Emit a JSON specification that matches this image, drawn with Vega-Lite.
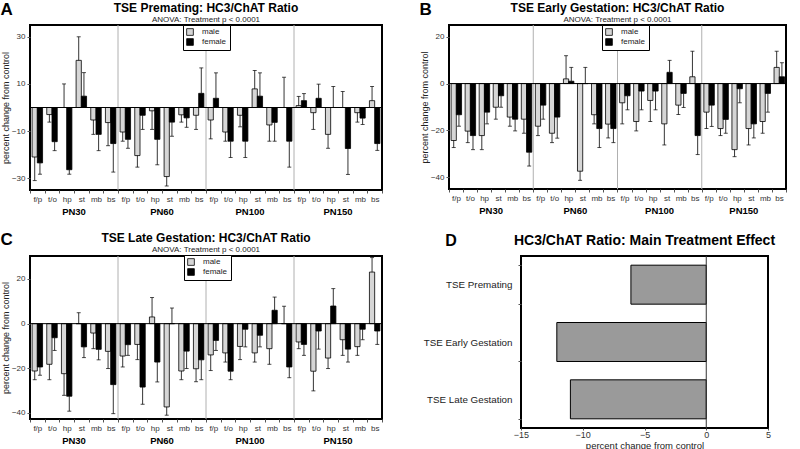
{
"$schema": "https://vega.github.io/schema/vega-lite/v6.json",
"padding": {"left": 0, "top": 0, "right": 0, "bottom": 0},
"config": {"font": "Liberation Sans", "view": {"stroke": "black", "strokeWidth": 2}, "title": {"color": "black", "fontWeight": "bold"}, "axis": {"labelColor": "#333", "titleColor": "#222", "tickColor": "#555"}},
"datasets": {
"A": [
{"k":"PN30 f/p","s":"male","v":-21,"e":-31},{"k":"PN30 f/p","s":"female","v":-23.5,"e":-28.3},
{"k":"PN30 t/o","s":"male","v":-3,"e":-6.2},{"k":"PN30 t/o","s":"female","v":-14.5,"e":-18.3},
{"k":"PN30 hp","s":"male","v":0,"e":10},{"k":"PN30 hp","s":"female","v":-26.4,"e":-28.3},
{"k":"PN30 st","s":"male","v":20,"e":30},{"k":"PN30 st","s":"female","v":4.8,"e":14.8},
{"k":"PN30 mb","s":"male","v":-5.3,"e":-11.4},{"k":"PN30 mb","s":"female","v":-11.4,"e":-18.3},
{"k":"PN30 bs","s":"male","v":-6.4,"e":-16.2},{"k":"PN30 bs","s":"female","v":-15.3,"e":-27.4},
{"k":"PN60 f/p","s":"male","v":-10.4,"e":-14.3},{"k":"PN60 f/p","s":"female","v":-13.5,"e":-17.3},
{"k":"PN60 t/o","s":"male","v":-20.4,"e":-25.3},{"k":"PN60 t/o","s":"female","v":-3.3,"e":-9.3},
{"k":"PN60 hp","s":"male","v":-1.4,"e":-9.3},{"k":"PN60 hp","s":"female","v":-13.5,"e":-24.3},
{"k":"PN60 st","s":"male","v":-29.3,"e":-33.3},{"k":"PN60 st","s":"female","v":-6.2,"e":-12.2},
{"k":"PN60 mb","s":"male","v":-3.1,"e":-6.2},{"k":"PN60 mb","s":"female","v":-4.4,"e":-8.4},
{"k":"PN60 bs","s":"male","v":-3.3,"e":-9.3},{"k":"PN60 bs","s":"female","v":6,"e":16.8},
{"k":"PN100 f/p","s":"male","v":-5.3,"e":-13.3},{"k":"PN100 f/p","s":"female","v":3.9,"e":14.7},
{"k":"PN100 t/o","s":"male","v":-10.4,"e":-14.3},{"k":"PN100 t/o","s":"female","v":-14.3,"e":-21.2},
{"k":"PN100 hp","s":"male","v":-3.3,"e":-8.2},{"k":"PN100 hp","s":"female","v":-14.3,"e":-21.2},
{"k":"PN100 st","s":"male","v":7.9,"e":15.7},{"k":"PN100 st","s":"female","v":4.8,"e":14.7},
{"k":"PN100 mb","s":"male","v":-7.4,"e":-14.3},{"k":"PN100 mb","s":"female","v":-6.3,"e":-14.3},
{"k":"PN100 bs","s":"male","v":0,"e":12.8},{"k":"PN100 bs","s":"female","v":-14.3,"e":-25.3},
{"k":"PN150 f/p","s":"male","v":0.8,"e":4.7},{"k":"PN150 f/p","s":"female","v":2.9,"e":5.9},
{"k":"PN150 t/o","s":"male","v":-2.2,"e":-9.3},{"k":"PN150 t/o","s":"female","v":3.9,"e":9.9},
{"k":"PN150 hp","s":"male","v":-11.4,"e":-17.3},{"k":"PN150 hp","s":"female","v":0,"e":8.9},
{"k":"PN150 st","s":"male","v":0,"e":6.8},{"k":"PN150 st","s":"female","v":-17.4,"e":-28.4},
{"k":"PN150 mb","s":"male","v":-2.2,"e":-6.2},{"k":"PN150 mb","s":"female","v":-4.5,"e":-7.2},
{"k":"PN150 bs","s":"male","v":2.9,"e":8.9},{"k":"PN150 bs","s":"female","v":-15.3,"e":-18.2}
],
"B": [
{"k":"PN30 f/p","s":"male","v":-24.3,"e":-27.3},{"k":"PN30 f/p","s":"female","v":-13.3,"e":-18.2},
{"k":"PN30 t/o","s":"male","v":-20.3,"e":-25.2},{"k":"PN30 t/o","s":"female","v":-22.2,"e":-28.2},
{"k":"PN30 hp","s":"male","v":-22.2,"e":-28.2},{"k":"PN30 hp","s":"female","v":-12.2,"e":-17.2},
{"k":"PN30 st","s":"male","v":-10.1,"e":-15.2},{"k":"PN30 st","s":"female","v":-5.2,"e":-10.1},
{"k":"PN30 mb","s":"male","v":-14.3,"e":-18.2},{"k":"PN30 mb","s":"female","v":-15.2,"e":-20.2},
{"k":"PN30 bs","s":"male","v":-15.2,"e":-21.2},{"k":"PN30 bs","s":"female","v":-29.3,"e":-35.2},
{"k":"PN60 f/p","s":"male","v":-18.2,"e":-22.2},{"k":"PN60 f/p","s":"female","v":-9.2,"e":-15.2},
{"k":"PN60 t/o","s":"male","v":-21.2,"e":-25.2},{"k":"PN60 t/o","s":"female","v":-14.3,"e":-23.3},
{"k":"PN60 hp","s":"male","v":2,"e":11.9},{"k":"PN60 hp","s":"female","v":1,"e":6.9},
{"k":"PN60 st","s":"male","v":-37.4,"e":-41.3},{"k":"PN60 st","s":"female","v":0,"e":6.9},
{"k":"PN60 mb","s":"male","v":-13.3,"e":-17.2},{"k":"PN60 mb","s":"female","v":-19.2,"e":-27.3},
{"k":"PN60 bs","s":"male","v":-17.3,"e":-23.2},{"k":"PN60 bs","s":"female","v":-19.2,"e":-25.2},
{"k":"PN100 f/p","s":"male","v":-8.2,"e":-17.2},{"k":"PN100 f/p","s":"female","v":-5.2,"e":-11.2},
{"k":"PN100 t/o","s":"male","v":-16.2,"e":-20.2},{"k":"PN100 t/o","s":"female","v":-3.2,"e":-11.2},
{"k":"PN100 hp","s":"male","v":-7.2,"e":-16.2},{"k":"PN100 hp","s":"female","v":-3.2,"e":-11.2},
{"k":"PN100 st","s":"male","v":-17.2,"e":-26.2},{"k":"PN100 st","s":"female","v":4.8,"e":9.9},
{"k":"PN100 mb","s":"male","v":-9.2,"e":-13.2},{"k":"PN100 mb","s":"female","v":-4.2,"e":-10.2},
{"k":"PN100 bs","s":"male","v":2.9,"e":13.8},{"k":"PN100 bs","s":"female","v":-22.2,"e":-30.3},
{"k":"PN150 f/p","s":"male","v":-12.2,"e":-19.2},{"k":"PN150 f/p","s":"female","v":-9.2,"e":-18.3},
{"k":"PN150 t/o","s":"male","v":-19.2,"e":-22.2},{"k":"PN150 t/o","s":"female","v":-15.3,"e":-21.2},
{"k":"PN150 hp","s":"male","v":-28.2,"e":-31.2},{"k":"PN150 hp","s":"female","v":-2.2,"e":-8.2},
{"k":"PN150 st","s":"male","v":-19.2,"e":-26.2},{"k":"PN150 st","s":"female","v":-17.2,"e":-23.2},
{"k":"PN150 mb","s":"male","v":-16.2,"e":-21.2},{"k":"PN150 mb","s":"female","v":-4.2,"e":-12.2},
{"k":"PN150 bs","s":"male","v":6.9,"e":13.8},{"k":"PN150 bs","s":"female","v":2.9,"e":8.9}
],
"C": [
{"k":"PN30 f/p","s":"male","v":-21.2,"e":-25.1},{"k":"PN30 f/p","s":"female","v":-19.4,"e":-23.1},
{"k":"PN30 t/o","s":"male","v":-18.2,"e":-25.1},{"k":"PN30 t/o","s":"female","v":-6.3,"e":-12},
{"k":"PN30 hp","s":"male","v":-22.4,"e":-32.1},{"k":"PN30 hp","s":"female","v":-32.5,"e":-39.2},
{"k":"PN30 st","s":"male","v":0,"e":4.9},{"k":"PN30 st","s":"female","v":-10.4,"e":-15.2},
{"k":"PN30 mb","s":"male","v":-4.2,"e":-11.2},{"k":"PN30 mb","s":"female","v":-11.5,"e":-16.2},
{"k":"PN30 bs","s":"male","v":-12.4,"e":-20.1},{"k":"PN30 bs","s":"female","v":-27.3,"e":-40.3},
{"k":"PN60 f/p","s":"male","v":-14.5,"e":-19.4},{"k":"PN60 f/p","s":"female","v":-9.4,"e":-14.2},
{"k":"PN60 t/o","s":"male","v":-9.3,"e":-16.1},{"k":"PN60 t/o","s":"female","v":-28.4,"e":-36.1},
{"k":"PN60 hp","s":"male","v":3,"e":11.7},{"k":"PN60 hp","s":"female","v":-17.2,"e":-26.1},
{"k":"PN60 st","s":"male","v":-37.3,"e":-41},{"k":"PN60 st","s":"female","v":0,"e":7},
{"k":"PN60 mb","s":"male","v":-21.2,"e":-25.1},{"k":"PN60 mb","s":"female","v":-12.3,"e":-20.1},
{"k":"PN60 bs","s":"male","v":-20.2,"e":-26},{"k":"PN60 bs","s":"female","v":-16.2,"e":-25.1},
{"k":"PN100 f/p","s":"male","v":-14,"e":-21},{"k":"PN100 f/p","s":"female","v":-7.5,"e":-12},
{"k":"PN100 t/o","s":"male","v":-13.1,"e":-17.2},{"k":"PN100 t/o","s":"female","v":-21.3,"e":-25.1},
{"k":"PN100 hp","s":"male","v":-10.2,"e":-16.1},{"k":"PN100 hp","s":"female","v":-2.5,"e":-10.4},
{"k":"PN100 st","s":"male","v":-13.1,"e":-17.2},{"k":"PN100 st","s":"female","v":-5.2,"e":-10.4},
{"k":"PN100 mb","s":"male","v":-11.2,"e":-18.2},{"k":"PN100 mb","s":"female","v":6,"e":11.9},
{"k":"PN100 bs","s":"male","v":0,"e":7.8},{"k":"PN100 bs","s":"female","v":-19.4,"e":-24.2},
{"k":"PN150 f/p","s":"male","v":-8.2,"e":-11.2},{"k":"PN150 f/p","s":"female","v":-9.3,"e":-14.2},
{"k":"PN150 t/o","s":"male","v":-21.3,"e":-30.1},{"k":"PN150 t/o","s":"female","v":-3.3,"e":-11.4},
{"k":"PN150 hp","s":"male","v":-15.4,"e":-20.1},{"k":"PN150 hp","s":"female","v":7.9,"e":15.7},
{"k":"PN150 st","s":"male","v":-7.2,"e":-14.2},{"k":"PN150 st","s":"female","v":-11.4,"e":-17.2},
{"k":"PN150 mb","s":"male","v":-10.3,"e":-14.2},{"k":"PN150 mb","s":"female","v":-2.5,"e":-7.2},
{"k":"PN150 bs","s":"male","v":23.1,"e":29.6},{"k":"PN150 bs","s":"female","v":-3.3,"e":-9.3}
]
},
"resolve": {"scale": {"color": "independent"}, "legend": {"color": "independent"}},
"spacing": 13,
"vconcat": [
{
"hconcat": [
{
"title": {"text": "A", "anchor": "start", "frame": "bounds", "fontSize": 17, "offset": -18},
"resolve": {"scale": {"color": "independent"}, "legend": {"color": "independent"}},
"vconcat": [{
"width": 352, "height": 165,
"title": {"text": "TSE Premating:  HC3/ChAT Ratio", "subtitle": "ANOVA: Treatment p < 0.0001", "fontSize": 12, "subtitleFontSize": 8, "subtitleColor": "#222", "subtitlePadding": 1, "offset": 0, "anchor": "middle"},
"resolve": {"scale": {"x": "independent"}, "axis": {"x": "independent"}},
"layer": [
{"data": {"values": [{"pn": "PN60"}, {"pn": "PN100"}, {"pn": "PN150"}]},
 "mark": {"type": "rule", "color": "#b0b0b0", "strokeWidth": 1},
 "encoding": {"x": {"field": "pn", "type": "nominal", "bandPosition": 0, "scale": {"type": "band", "domain": ["PN30", "PN60", "PN100", "PN150"], "paddingInner": 0, "paddingOuter": 0}, "axis": {"orient": "bottom", "offset": 16, "title": null, "ticks": false, "domain": false, "labelAngle": 0, "labelFontWeight": "bold", "labelFontSize": 9.5, "labelColor": "black", "labelPadding": 0}}}},
{"data": {"name": "A"},
 "encoding": {
  "x": {"field": "k", "type": "nominal", "sort": null, "scale": {"type": "band", "paddingInner": 0, "paddingOuter": 0}, "axis": {"orient": "bottom", "title": null, "labelExpr": "split(datum.label, ' ')[1]", "labelAngle": 0, "labelFontSize": 8, "tickBand": "extent", "tickSize": 3, "domain": false, "labelPadding": 2}},
  "xOffset": {"field": "s", "type": "nominal", "scale": {"domain": ["male", "female"], "paddingOuter": 0.4, "paddingInner": 0}}
 },
 "layer": [
  {"mark": {"type": "bar", "stroke": "black", "strokeWidth": 0.8},
   "encoding": {
    "y": {"field": "v", "type": "quantitative", "scale": {"domain": [-35, 35], "nice": false, "zero": false}, "axis": {"title": "percent change from control", "values": [-30, -20, -10, 0, 10, 20, 30], "grid": false, "domain": false, "tickSize": 3, "labelFontSize": 8, "titleFontSize": 9, "titleFontWeight": "normal", "titlePadding": 1}},
    "color": {"field": "s", "type": "nominal", "scale": {"domain": ["male", "female"], "range": ["#d6d6d6", "#000000"]}, "legend": {"title": null, "orient": "none", "legendX": 153, "legendY": 0, "fillColor": "white", "strokeColor": "black", "padding": 3, "symbolType": "square", "symbolSize": 45, "symbolStrokeColor": "black", "symbolStrokeWidth": 0.8, "labelFontSize": 8, "labelColor": "#222", "rowPadding": 0, "labelOffset": 8}}
   }},
  {"mark": {"type": "rule", "color": "black", "strokeWidth": 0.8},
   "encoding": {"y": {"field": "v", "type": "quantitative"}, "y2": {"field": "e"}}},
  {"mark": {"type": "tick", "color": "black", "thickness": 1, "size": 4},
   "encoding": {"y": {"field": "e", "type": "quantitative"}}}
 ]},
{"data": {"values": [{}]}, "mark": {"type": "rule", "color": "black", "strokeWidth": 1}, "encoding": {"y": {"datum": 0}}}
]
}]
},
{
"title": {"text": "B", "anchor": "start", "frame": "bounds", "fontSize": 17, "offset": -18},
"resolve": {"scale": {"color": "independent"}, "legend": {"color": "independent"}},
"vconcat": [{
"width": 337, "height": 164,
"title": {"text": "TSE Early Gestation:  HC3/ChAT Ratio", "subtitle": "ANOVA: Treatment p < 0.0001", "fontSize": 12, "subtitleFontSize": 8, "subtitleColor": "#222", "subtitlePadding": 1, "offset": 0, "anchor": "middle"},
"resolve": {"scale": {"x": "independent"}, "axis": {"x": "independent"}},
"layer": [
{"data": {"values": [{"pn": "PN60"}, {"pn": "PN100"}, {"pn": "PN150"}]},
 "mark": {"type": "rule", "color": "#b0b0b0", "strokeWidth": 1},
 "encoding": {"x": {"field": "pn", "type": "nominal", "bandPosition": 0, "scale": {"type": "band", "domain": ["PN30", "PN60", "PN100", "PN150"], "paddingInner": 0, "paddingOuter": 0}, "axis": {"orient": "bottom", "offset": 16, "title": null, "ticks": false, "domain": false, "labelAngle": 0, "labelFontWeight": "bold", "labelFontSize": 9.5, "labelColor": "black", "labelPadding": 0}}}},
{"data": {"name": "B"},
 "encoding": {
  "x": {"field": "k", "type": "nominal", "sort": null, "scale": {"type": "band", "paddingInner": 0, "paddingOuter": 0}, "axis": {"orient": "bottom", "title": null, "labelExpr": "split(datum.label, ' ')[1]", "labelAngle": 0, "labelFontSize": 8, "tickBand": "extent", "tickSize": 3, "domain": false, "labelPadding": 2}},
  "xOffset": {"field": "s", "type": "nominal", "scale": {"domain": ["male", "female"], "paddingOuter": 0.4, "paddingInner": 0}}
 },
 "layer": [
  {"mark": {"type": "bar", "stroke": "black", "strokeWidth": 0.8},
   "encoding": {
    "y": {"field": "v", "type": "quantitative", "scale": {"domain": [-45, 25], "nice": false, "zero": false}, "axis": {"title": "percent change from control", "values": [-40, -30, -20, -10, 0, 10, 20], "grid": false, "domain": false, "tickSize": 3, "labelFontSize": 8, "titleFontSize": 9, "titleFontWeight": "normal", "titlePadding": 1}},
    "color": {"field": "s", "type": "nominal", "scale": {"domain": ["male", "female"], "range": ["#d6d6d6", "#000000"]}, "legend": {"title": null, "orient": "none", "legendX": 153, "legendY": 0, "fillColor": "white", "strokeColor": "black", "padding": 3, "symbolType": "square", "symbolSize": 45, "symbolStrokeColor": "black", "symbolStrokeWidth": 0.8, "labelFontSize": 8, "labelColor": "#222", "rowPadding": 0, "labelOffset": 8}}
   }},
  {"mark": {"type": "rule", "color": "black", "strokeWidth": 0.8},
   "encoding": {"y": {"field": "v", "type": "quantitative"}, "y2": {"field": "e"}}},
  {"mark": {"type": "tick", "color": "black", "thickness": 1, "size": 4},
   "encoding": {"y": {"field": "e", "type": "quantitative"}}}
 ]},
{"data": {"values": [{}]}, "mark": {"type": "rule", "color": "black", "strokeWidth": 1}, "encoding": {"y": {"datum": 0}}}
]
}]
}
],
"spacing": 35,
"resolve": {"scale": {"color": "independent"}, "legend": {"color": "independent"}}
},
{
"hconcat": [
{
"title": {"text": "C", "anchor": "start", "frame": "bounds", "fontSize": 17, "offset": -18},
"resolve": {"scale": {"color": "independent"}, "legend": {"color": "independent"}},
"vconcat": [{
"width": 352, "height": 163,
"title": {"text": "TSE Late Gestation:  HC3/ChAT Ratio", "subtitle": "ANOVA: Treatment p < 0.0001", "fontSize": 12, "subtitleFontSize": 8, "subtitleColor": "#222", "subtitlePadding": 1, "offset": 0, "anchor": "middle"},
"resolve": {"scale": {"x": "independent"}, "axis": {"x": "independent"}},
"layer": [
{"data": {"values": [{"pn": "PN60"}, {"pn": "PN100"}, {"pn": "PN150"}]},
 "mark": {"type": "rule", "color": "#b0b0b0", "strokeWidth": 1},
 "encoding": {"x": {"field": "pn", "type": "nominal", "bandPosition": 0, "scale": {"type": "band", "domain": ["PN30", "PN60", "PN100", "PN150"], "paddingInner": 0, "paddingOuter": 0}, "axis": {"orient": "bottom", "offset": 16, "title": null, "ticks": false, "domain": false, "labelAngle": 0, "labelFontWeight": "bold", "labelFontSize": 9.5, "labelColor": "black", "labelPadding": 0}}}},
{"data": {"name": "C"},
 "encoding": {
  "x": {"field": "k", "type": "nominal", "sort": null, "scale": {"type": "band", "paddingInner": 0, "paddingOuter": 0}, "axis": {"orient": "bottom", "title": null, "labelExpr": "split(datum.label, ' ')[1]", "labelAngle": 0, "labelFontSize": 8, "tickBand": "extent", "tickSize": 3, "domain": false, "labelPadding": 2}},
  "xOffset": {"field": "s", "type": "nominal", "scale": {"domain": ["male", "female"], "paddingOuter": 0.4, "paddingInner": 0}}
 },
 "layer": [
  {"mark": {"type": "bar", "stroke": "black", "strokeWidth": 0.8},
   "encoding": {
    "y": {"field": "v", "type": "quantitative", "scale": {"domain": [-42.7, 30.3], "nice": false, "zero": false}, "axis": {"title": "percent change from control", "values": [-40, -30, -20, -10, 0, 10, 20, 30], "grid": false, "domain": false, "tickSize": 3, "labelFontSize": 8, "titleFontSize": 9, "titleFontWeight": "normal", "titlePadding": 1}},
    "color": {"field": "s", "type": "nominal", "scale": {"domain": ["male", "female"], "range": ["#d6d6d6", "#000000"]}, "legend": {"title": null, "orient": "none", "legendX": 154, "legendY": -1, "fillColor": "white", "strokeColor": "black", "padding": 3, "symbolType": "square", "symbolSize": 45, "symbolStrokeColor": "black", "symbolStrokeWidth": 0.8, "labelFontSize": 8, "labelColor": "#222", "rowPadding": 0, "labelOffset": 8}}
   }},
  {"mark": {"type": "rule", "color": "black", "strokeWidth": 0.8},
   "encoding": {"y": {"field": "v", "type": "quantitative"}, "y2": {"field": "e"}}},
  {"mark": {"type": "tick", "color": "black", "thickness": 1, "size": 4},
   "encoding": {"y": {"field": "e", "type": "quantitative"}}}
 ]},
{"data": {"values": [{}]}, "mark": {"type": "rule", "color": "black", "strokeWidth": 1}, "encoding": {"y": {"datum": 0}}}
]
}]
},
{
"title": {"text": "D", "anchor": "start", "frame": "bounds", "fontSize": 16, "offset": -16, "dx": 23},
"vconcat": [{
"width": 247, "height": 172,
"title": {"text": "HC3/ChAT Ratio: Main Treatment Effect", "fontSize": 14, "offset": 3, "anchor": "middle"},
"layer": [
{"data": {"values": [{"t": "TSE Premating", "v": -6.1}, {"t": "TSE Early Gestation", "v": -12.1}, {"t": "TSE Late Gestation", "v": -11}]},
 "mark": {"type": "bar", "fill": "#9a9a9a", "stroke": "black", "strokeWidth": 1},
 "encoding": {
  "y": {"field": "t", "type": "nominal", "sort": null, "scale": {"paddingInner": 0.32, "paddingOuter": 0.16}, "axis": {"title": null, "labelFontSize": 9.8, "labelColor": "#222", "tickBand": "extent", "tickSize": 3, "domain": false, "labelPadding": 6}},
  "x": {"field": "v", "type": "quantitative", "scale": {"domain": [-15, 5], "nice": false}, "axis": {"values": [-15, -10, -5, 0, 5], "title": "percent change from control", "grid": false, "domain": false, "tickSize": 2, "labelFontSize": 9, "labelPadding": 0, "labelFlush": false, "titleFontSize": 9.5, "titleFontWeight": "normal", "titlePadding": 1}}
 }},
{"data": {"values": [{}]}, "mark": {"type": "rule", "color": "#333", "strokeWidth": 1}, "encoding": {"x": {"datum": 0}}}
]
}]
}
],
"spacing": 38,
"resolve": {"scale": {"color": "independent"}, "legend": {"color": "independent"}}
}
]
}
